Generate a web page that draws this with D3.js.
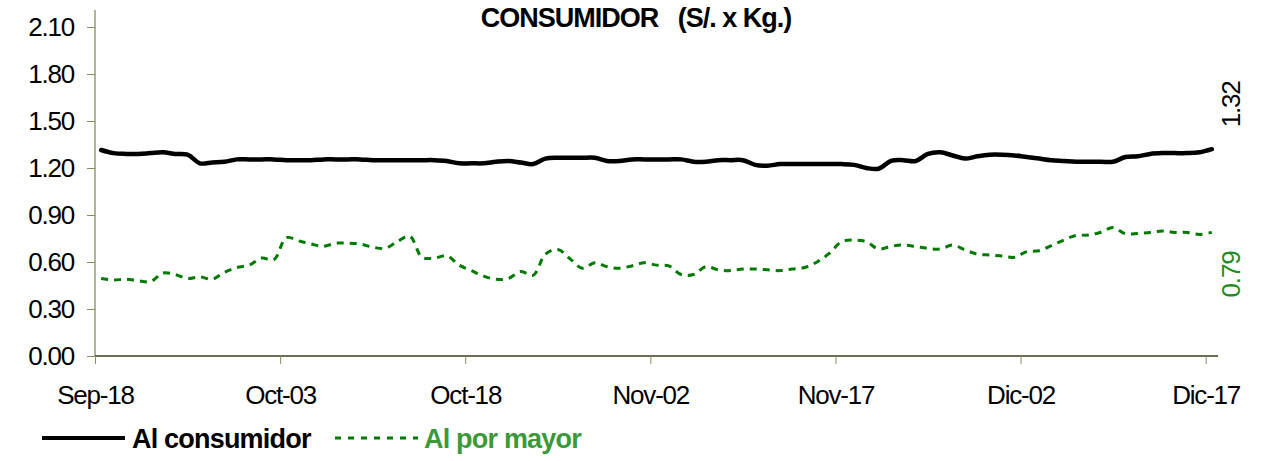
<!DOCTYPE html>
<html><head><meta charset="utf-8">
<script src="https://cdnjs.cloudflare.com/ajax/libs/d3/7.8.5/d3.min.js"></script>
<style>
html,body{margin:0;padding:0;background:#fff;}
svg{display:block;font-family:"Liberation Sans",Arial,sans-serif;}
</style></head>
<body><svg id="c" width="1280" height="461"></svg>
<script>
const startDate = "2008-09-18";
const endDate = "2008-12-18";
const tickLabels = ["Sep-18","Oct-03","Oct-18","Nov-02","Nov-17","Dic-02","Dic-17"];
const yTicks = [0,0.3,0.6,0.9,1.2,1.5,1.8,2.1];
const seriesNames = ["Al consumidor","Al por mayor"];
const title = "CONSUMIDOR   (S/. x Kg.)";
const consumidor = [1.315,1.295,1.29,1.29,1.295,1.30,1.29,1.285,1.23,1.235,
 1.24,1.255,1.255,1.255,1.255,1.25,1.25,1.25,1.255,1.255,
 1.255,1.255,1.25,1.25,1.25,1.25,1.25,1.25,1.245,1.23,
 1.23,1.23,1.24,1.245,1.235,1.225,1.26,1.265,1.265,1.265,
 1.265,1.245,1.245,1.255,1.255,1.255,1.255,1.255,1.24,1.24,
 1.25,1.25,1.25,1.22,1.215,1.225,1.225,1.225,1.225,1.225,
 1.225,1.22,1.20,1.195,1.245,1.25,1.245,1.29,1.30,1.28,
 1.26,1.275,1.285,1.285,1.28,1.27,1.26,1.25,1.245,1.24,
 1.24,1.24,1.24,1.27,1.275,1.29,1.295,1.295,1.295,1.30,1.32];
const porMayor = [0.495,0.485,0.49,0.48,0.475,0.53,0.52,0.495,0.505,0.49,
 0.535,0.565,0.58,0.625,0.615,0.755,0.735,0.715,0.70,0.72,
 0.72,0.715,0.695,0.687,0.73,0.765,0.63,0.625,0.64,0.58,
 0.545,0.51,0.49,0.495,0.54,0.515,0.65,0.68,0.62,0.56,
 0.595,0.57,0.56,0.575,0.595,0.58,0.575,0.52,0.52,0.57,
 0.55,0.545,0.555,0.555,0.55,0.545,0.555,0.565,0.60,0.655,
 0.73,0.74,0.73,0.683,0.70,0.708,0.698,0.687,0.683,0.708,
 0.677,0.65,0.645,0.638,0.63,0.666,0.672,0.705,0.74,0.77,
 0.772,0.79,0.82,0.78,0.782,0.789,0.798,0.789,0.789,0.776,0.789];

const svg = d3.select("#c");
const parse = d3.utcParse("%Y-%m-%d");
const d0 = parse(startDate), d1 = parse(endDate);
const DAY = 864e5;
const dates = consumidor.map((_, i) => new Date(d0.getTime() + (i + 0.5) * DAY));
const tickDates = tickLabels.map((_, i) => new Date(d0.getTime() + i * 15 * DAY));

const x = d3.scaleUtc().domain([d0, d1]).range([95, 1218]);
const y = d3.scaleLinear().domain([0, 2.1]).range([356, 27]);

// title
svg.append("text").attr("x", 636).attr("y", 27).attr("text-anchor", "middle")
  .attr("font-size", 27).attr("font-weight", "bold").attr("letter-spacing", -1)
  .style("white-space", "pre").text(title);

// y axis
const yAxis = svg.append("g").attr("transform", "translate(95,0)")
  .call(d3.axisLeft(y).tickValues(yTicks).tickSize(8).tickPadding(13).tickFormat(d3.format(".2f")));
yAxis.select(".domain").remove();
yAxis.append("line").attr("x1", 0).attr("x2", 0).attr("y1", 10).attr("y2", 356)
  .attr("stroke", "#8c8c5c").attr("stroke-width", 1.3);
yAxis.selectAll(".tick line").attr("stroke", "#8c8c5c");
yAxis.selectAll(".tick text").attr("font-size", 26).attr("fill", "#000")
  .attr("letter-spacing", -1.2).attr("font-family", "Liberation Sans, Arial, sans-serif");

// x axis
const xAxis = svg.append("g").attr("transform", "translate(0,356)")
  .call(d3.axisBottom(x).tickValues(tickDates).tickSize(8).tickPadding(22)
    .tickFormat((d, i) => tickLabels[i]));
xAxis.select(".domain").attr("stroke", "#3d3d1a").attr("stroke-width", 1.6)
  .attr("d", "M95,0H1218");
xAxis.selectAll(".tick line").attr("stroke", "#8c8c5c");
xAxis.selectAll(".tick text").attr("font-size", 26).attr("fill", "#000")
  .attr("letter-spacing", -1.2).attr("font-family", "Liberation Sans, Arial, sans-serif");

const line = d3.line().x((d, i) => x(dates[i])).y(d => y(d)).curve(d3.curveCatmullRom.alpha(0.5));

svg.append("path").datum(porMayor).attr("d", line).attr("fill", "none")
  .attr("stroke", "#007a00").attr("stroke-width", 3).attr("stroke-dasharray", "7,6");
svg.append("path").datum(consumidor).attr("d", line).attr("fill", "none")
  .attr("stroke", "#000").attr("stroke-width", 4.5).attr("stroke-linecap", "round");

// end labels
const lastDate = dates[dates.length - 1];
const lx = x(lastDate) + 28;
svg.append("text").attr("transform", `translate(${lx},${y(consumidor[consumidor.length-1]) - 22}) rotate(-90)`)
  .attr("font-size", 26).attr("letter-spacing", -1.2).attr("fill", "#000").text(d3.format(".2f")(consumidor[consumidor.length-1]));
svg.append("text").attr("transform", `translate(${lx},${y(porMayor[porMayor.length-1]) + 65}) rotate(-90)`)
  .attr("font-size", 26).attr("letter-spacing", -1.2).attr("fill", "#1e8c1e").text(d3.format(".2f")(porMayor[porMayor.length-1]));

// legend
const lg = svg.append("g");
lg.append("line").attr("x1", 42).attr("x2", 125).attr("y1", 438).attr("y2", 438)
  .attr("stroke", "#000").attr("stroke-width", 4);
lg.append("text").attr("x", 132).attr("y", 448).attr("font-size", 27).attr("font-weight", "bold")
  .attr("letter-spacing", -0.8).attr("fill", "#000").text(seriesNames[0]);
lg.append("line").attr("x1", 335).attr("x2", 418).attr("y1", 438).attr("y2", 438)
  .attr("stroke", "#007a00").attr("stroke-width", 3).attr("stroke-dasharray", "6,7");
lg.append("text").attr("x", 424).attr("y", 448).attr("font-size", 27).attr("font-weight", "bold")
  .attr("letter-spacing", -0.8).attr("fill", "#3a9a3a").text(seriesNames[1]);
</script></body></html>
